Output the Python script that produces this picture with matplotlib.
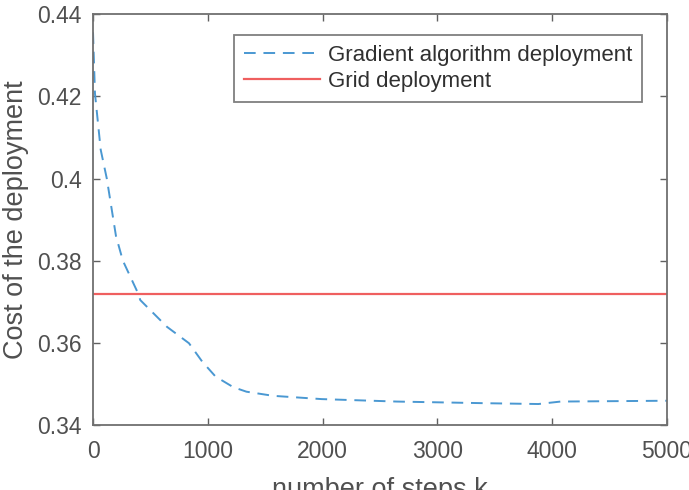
import matplotlib
matplotlib.use('Agg')
import matplotlib.pyplot as plt

# values
steps = [0, 17, 67, 120, 200, 260, 390, 412, 644, 836, 952, 1067, 1222, 1337,
         1568, 1992, 2647, 3418, 3880, 4073, 5000]
cost_gradient = [0.4356, 0.4207, 0.407, 0.400, 0.386, 0.380, 0.3722, 0.3704,
                 0.3639, 0.3599, 0.3554, 0.3518, 0.3492, 0.3481, 0.3471,
                 0.3463, 0.3457, 0.3453, 0.3451, 0.3457, 0.3459]
cost_grid = 0.372

x_ticks = [0, 1000, 2000, 3000, 4000, 5000]
y_ticks = [0.34, 0.36, 0.38, 0.4, 0.42, 0.44]
y_ticklabels = ['0.34', '0.36', '0.38', '0.4', '0.42', '0.44']

plt.rcParams['font.family'] = ['Liberation Sans', 'DejaVu Sans']
text_grey = '#505050'

fig = plt.figure(figsize=(6.89, 4.90), dpi=100)
ax = fig.add_axes([0.135, 0.1327, 0.833, 0.8383])

ax.plot(steps, cost_gradient, linestyle=(0, (6, 4)), color='#4a98d2',
        linewidth=1.4, label='Gradient algorithm deployment')
ax.axhline(cost_grid, color='#ef5f5f', linewidth=1.6, label='Grid deployment')

ax.set_xlim(0, 5000)
ax.set_ylim(0.34, 0.44)
ax.set_xticks(x_ticks)
ax.set_yticks(y_ticks)
ax.set_yticklabels(y_ticklabels)
ax.tick_params(direction='in', top=True, right=True, length=5, width=1,
               colors='#606060', labelcolor=text_grey, labelsize=16.5, pad=8)
ax.tick_params(axis='x', pad=11)
for side in ax.spines.values():
    side.set_color('#707070')
    side.set_linewidth(1.3)

ax.set_ylabel('Cost of the deployment', fontsize=19.5, color=text_grey, labelpad=6)
ax.set_xlabel('number of steps k', fontsize=19.5, color=text_grey, labelpad=10)

leg = ax.legend(loc='upper right', bbox_to_anchor=(0.9565, 0.949), fontsize=16,
                frameon=True, fancybox=False, borderpad=0.45, handlelength=3.4,
                handletextpad=0.35, labelspacing=0.2, borderaxespad=0)
leg.get_frame().set_edgecolor('#606060')
leg.get_frame().set_linewidth(1.3)
for t in leg.get_texts():
    t.set_color('#303030')

fig.savefig('out.png', dpi=100)
